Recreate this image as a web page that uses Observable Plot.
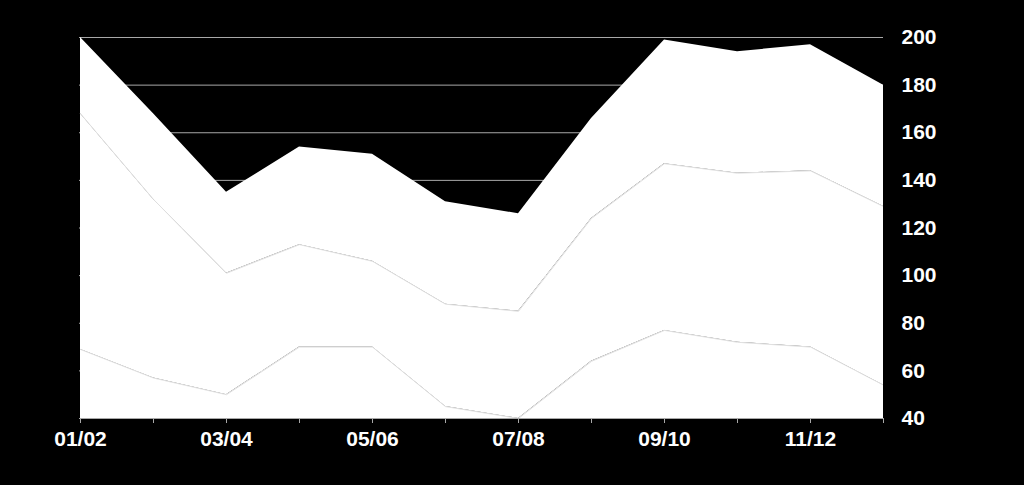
<!DOCTYPE html>
<html>
<head>
<meta charset="utf-8">
<script src="https://cdn.jsdelivr.net/npm/d3@7"></script>
<script src="https://cdn.jsdelivr.net/npm/@observablehq/plot@0.6"></script>
<style>
  html, body { margin: 0; padding: 0; background: #000; }
  #chart { width: 1024px; height: 485px; overflow: hidden; }
</style>
</head>
<body>
<div id="chart"></div>
<script>
const periods = ["01/02","02/03","03/04","04/05","05/06","06/07","07/08","08/09","09/10","10/11","11/12","12/13"];
const seriesA = [69, 57, 50, 70, 70, 45, 40, 64, 77, 72, 70, 54];
const seriesB = [99, 75, 51, 43, 36, 43, 45, 60, 70, 71, 74, 75];
const seriesC = [32, 36, 34, 41, 45, 43, 41, 42, 52, 51, 53, 51];
const seriesNames = ["A", "B", "C"];
const yTicks = [40, 60, 80, 100, 120, 140, 160, 180, 200];

const seriesValues = [seriesA, seriesB, seriesC];
const data = [];
seriesNames.forEach((s, k) => {
  periods.forEach((p, i) => data.push({period: p, series: s, value: seriesValues[k][i]}));
});
const lowerData = data.filter(d => d.series !== "C");

const chart = Plot.plot({
  width: 1024,
  height: 485,
  marginLeft: 79,
  marginRight: 141,
  marginTop: 37,
  marginBottom: 67,
  style: {background: "#000", color: "#fff", fontFamily: "'Liberation Sans', Arial, sans-serif", fontSize: "21px", fontWeight: "bold"},
  x: {type: "point", domain: periods, padding: 0},
  y: {domain: [40, 200]},
  marks: [
    Plot.gridY(yTicks, {stroke: "#a8a8a8", strokeOpacity: 1, strokeWidth: 1}),
    Plot.areaY(data, Plot.stackY({x: "period", y: "value", z: "series", fill: "#fff", order: null, clip: true})),
    Plot.lineY(lowerData, Plot.stackY2({x: "period", y: "value", z: "series", stroke: "#e0e0e0", strokeWidth: 1, order: null, clip: true})),
    Plot.ruleY([40], {stroke: "#a8a8a8", strokeWidth: 1}),
    Plot.axisX({ticks: periods, tickSize: 5, stroke: "#a8a8a8", tickPadding: 8, fill: "#fff", fontSize: 21, fontWeight: "bold",
      tickFormat: (d) => periods.indexOf(d) % 2 === 0 ? d : "", label: null}),
    Plot.axisY(yTicks, {anchor: "right", tickSize: 0, tickPadding: 18, fill: "#fff", fontSize: 21, fontWeight: "bold", textAnchor: "start", label: null})
  ]
});
document.getElementById("chart").appendChild(chart);
</script>
</body>
</html>
